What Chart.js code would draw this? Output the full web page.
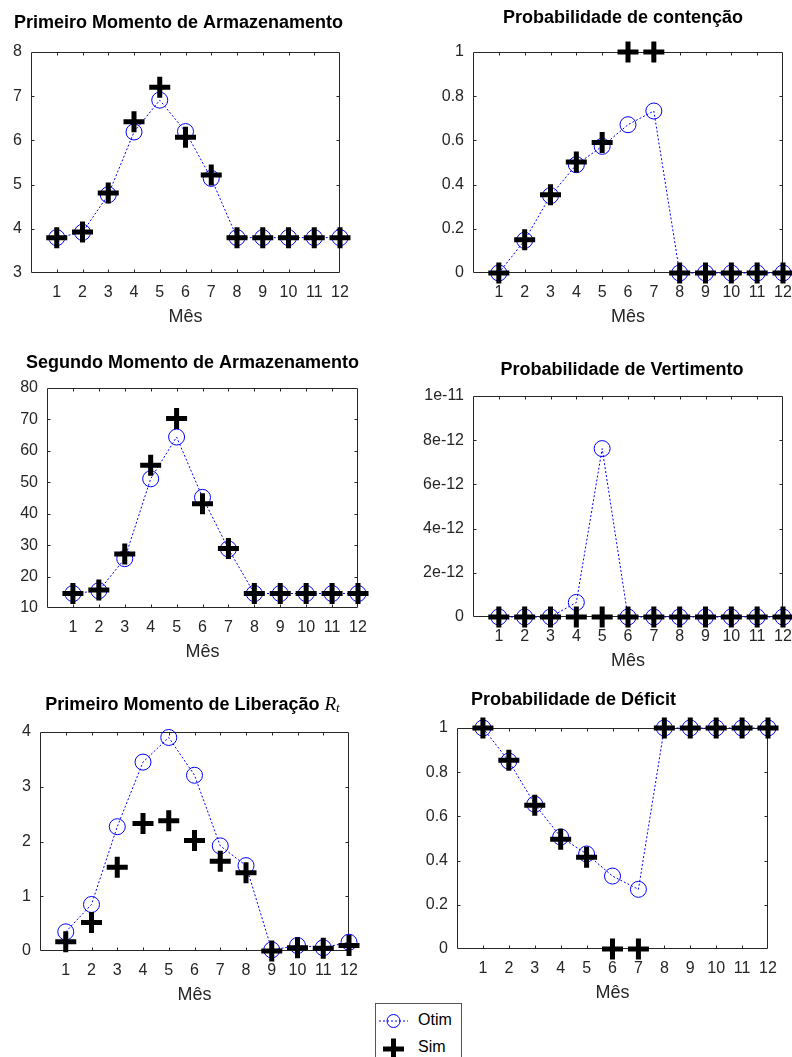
<!DOCTYPE html>
<html lang="pt">
<head>
<meta charset="utf-8">
<title>Momentos e probabilidades por mês</title>
<script src="https://cdn.jsdelivr.net/npm/chart.js@4/dist/chart.umd.min.js"></script>
<style>
  html, body { margin: 0; padding: 0; background: #fff; overflow: hidden; }
  body { width: 792px; height: 1057px; position: relative; font-family: "Liberation Sans", Arial, sans-serif; }
  canvas { position: absolute; }
  #legenda { position: absolute; left: 375px; top: 1003px; width: 85px; height: 70px; border: 1px solid #555; background: #fff; }
  #legenda svg { position: absolute; }
  #legenda span { position: absolute; left: 42px; font-size: 16px; color: #000; line-height: 18px; }
</style>
</head>
<body>
<canvas id="g1"></canvas>
<canvas id="g2"></canvas>
<canvas id="g3"></canvas>
<canvas id="g4"></canvas>
<canvas id="g5"></canvas>
<canvas id="g6"></canvas>

<div id="legenda">
  <svg style="left:2px; top:7px" width="32" height="20">
    <line x1="1" y1="10" x2="30" y2="10" stroke="#0000ff" stroke-width="1" stroke-dasharray="2,2"/>
    <circle cx="15.5" cy="10" r="6.5" fill="none" stroke="#0000ff" stroke-width="1"/>
  </svg>
  <span style="top:7px">Otim</span>
  <svg style="left:2px; top:33px" width="32" height="24">
    <line x1="5" y1="12" x2="26" y2="12" stroke="#000" stroke-width="5"/>
    <line x1="15.5" y1="1.5" x2="15.5" y2="22.5" stroke="#000" stroke-width="5"/>
  </svg>
  <span style="top:34px">Sim</span>
</div>

<script>
// Dados (12 meses)
const meses = [1, 2, 3, 4, 5, 6, 7, 8, 9, 10, 11, 12];

// Primeiro Momento de Armazenamento
const armaz1Otim = [3.8, 3.92, 4.77, 6.19, 6.91, 6.2, 5.14, 3.8, 3.8, 3.8, 3.8, 3.8];
const armaz1Sim  = [3.8, 3.93, 4.81, 6.42, 7.2, 6.07, 5.22, 3.8, 3.8, 3.8, 3.8, 3.8];

// Probabilidade de contenção
const contencaoOtim = [0, 0.148, 0.35, 0.49, 0.573, 0.671, 0.733, 0, 0, 0, 0, 0];
const contencaoSim  = [0, 0.151, 0.354, 0.502, 0.59, 1, 1, 0, 0, 0, 0, 0];

// Segundo Momento de Armazenamento
const armaz2Otim = [14.6, 15.5, 25.7, 51.1, 64.4, 45.2, 28.8, 14.6, 14.6, 14.6, 14.6, 14.6];
const armaz2Sim  = [14.6, 15.7, 27.2, 55.4, 70.3, 43.2, 28.9, 14.6, 14.6, 14.6, 14.6, 14.6];

// Probabilidade de Vertimento
const vertimentoOtim = [0, 0, 0, 6.6e-13, 7.62e-12, 0, 0, 0, 0, 0, 0, 0];
const vertimentoSim  = [0, 0, 0, 0, 0, 0, 0, 0, 0, 0, 0, 0];

// Primeiro Momento de Liberação Rt
const liberacaoOtim = [0.35, 0.85, 2.27, 3.45, 3.9, 3.21, 1.92, 1.56, 0.02, 0.1, 0.06, 0.16];
const liberacaoSim  = [0.17, 0.52, 1.53, 2.33, 2.38, 2.02, 1.64, 1.43, 0, 0.06, 0.05, 0.1];

// Probabilidade de Déficit
const deficitOtim = [1, 0.85, 0.655, 0.507, 0.43, 0.33, 0.27, 1, 1, 1, 1, 1];
const deficitSim  = [1, 0.854, 0.65, 0.497, 0.415, 0, 0, 1, 1, 1, 1, 1];

// Medidas fixas da área de cada eixo
const LARG_Y = 60;     // largura do eixo y
const ALT_X = 60;      // altura do eixo x
const MARGEM_SUP = 50; // espaço para o título
const MARGEM_DIR = 24; // folga para o rótulo "12"

const corTexto = '#262626';
const fonte = '"Liberation Sans", Arial, Helvetica, sans-serif';

// Título centrado sobre a área do gráfico (com partes em fontes diferentes)
const tituloEixo = {
  id: 'tituloEixo',
  afterDraw(chart) {
    const t = chart.config._config.tituloInfo;
    if (!t) return;
    const { ctx, chartArea } = chart;
    ctx.save();
    ctx.textBaseline = 'middle';
    ctx.textAlign = 'left';
    ctx.fillStyle = '#000';
    const larguras = t.partes.map(p => { ctx.font = p.font; return ctx.measureText(p.texto).width; });
    const total = larguras.reduce((a, b) => a + b, 0);
    let x = (chartArea.left + chartArea.right) / 2 + t.dx - total / 2;
    const y = chartArea.top - t.dy;
    t.partes.forEach((p, i) => {
      ctx.font = p.font;
      ctx.fillText(p.texto, x, y + (p.desl || 0));
      x += larguras[i];
    });
    ctx.restore();
  }
};

// Caixa dos eixos com marcas internas (estilo MATLAB)
const caixaEixos = {
  id: 'caixaEixos',
  beforeDatasetsDraw(chart) {
    const { ctx, chartArea: a, scales } = chart;
    const esq = Math.round(a.left) + 0.5, dir = Math.round(a.right) - 0.5;
    const sup = Math.round(a.top) + 0.5, inf = Math.round(a.bottom) - 0.5;
    ctx.save();
    ctx.strokeStyle = corTexto;
    ctx.lineWidth = 1;
    ctx.beginPath();
    ctx.rect(esq, sup, dir - esq, inf - sup);
    scales.x.ticks.forEach(t => {
      if (t.value <= scales.x.min || t.value >= scales.x.max) return;
      const px = Math.round(scales.x.getPixelForValue(t.value)) + 0.5;
      ctx.moveTo(px, inf); ctx.lineTo(px, inf - 3);
      ctx.moveTo(px, sup); ctx.lineTo(px, sup + 3);
    });
    scales.y.ticks.forEach(t => {
      if (t.value <= scales.y.min || t.value >= scales.y.max) return;
      const py = Math.round(scales.y.getPixelForValue(t.value)) + 0.5;
      ctx.moveTo(esq, py); ctx.lineTo(esq + 3, py);
      ctx.moveTo(dir, py); ctx.lineTo(dir - 3, py);
    });
    ctx.stroke();
    ctx.restore();
  }
};

function pontos(valores) {
  return meses.map((m, i) => ({ x: m, y: valores[i] }));
}

// Cria um gráfico; area = [esquerda, topo, direita, base] da área de plotagem
function criarGrafico(id, area, otim, sim, eixoY, titulo) {
  const [esq, topo, dir, base] = area;
  const canvas = document.getElementById(id);
  canvas.width = dir - esq + LARG_Y + MARGEM_DIR;
  canvas.height = base - topo + MARGEM_SUP + ALT_X;
  canvas.style.left = (esq - LARG_Y) + 'px';
  canvas.style.top = (topo - MARGEM_SUP) + 'px';

  return new Chart(canvas.getContext('2d'), {
    type: 'line',
    tituloInfo: titulo,
    data: {
      datasets: [
        {
          label: 'Otim',
          data: pontos(otim),
          borderColor: '#0000ff',
          borderWidth: 1,
          borderDash: [2, 2],
          fill: false,
          tension: 0,
          pointStyle: 'circle',
          pointRadius: 8,
          pointBorderWidth: 1,
          pointBorderColor: '#0000ff',
          pointBackgroundColor: 'rgba(0,0,0,0)',
          clip: false,
          order: 1
        },
        {
          label: 'Sim',
          data: pontos(sim),
          showLine: false,
          pointStyle: 'cross',
          pointRadius: 10.5,
          pointBorderWidth: 5,
          pointBorderColor: '#000',
          clip: false,
          order: 0
        }
      ]
    },
    options: {
      responsive: false,
      animation: false,
      events: [],
      layout: { padding: { top: MARGEM_SUP, right: MARGEM_DIR, left: 0, bottom: 0 } },
      plugins: { legend: { display: false }, tooltip: { enabled: false }, title: { display: false } },
      scales: {
        x: {
          type: 'linear',
          position: 'bottom',
          min: 0,
          max: 12,
          afterFit: s => { s.height = ALT_X; },
          grid: { display: false, drawTicks: false },
          border: { display: false },
          ticks: {
            stepSize: 1,
            autoSkip: false,
            maxRotation: 0,
            padding: 10,
            color: corTexto,
            font: { family: fonte, size: 16 },
            callback: v => (v === 0 ? '' : String(v))
          },
          title: {
            display: true,
            text: 'Mês',
            color: corTexto,
            font: { family: fonte, size: 18 },
            padding: { top: 0, bottom: 5 }
          }
        },
        y: {
          type: 'linear',
          position: 'left',
          min: eixoY.min,
          max: eixoY.max,
          afterFit: s => { s.width = LARG_Y; },
          grid: { display: false, drawTicks: false },
          border: { display: false },
          ticks: {
            stepSize: eixoY.passo,
            autoSkip: false,
            padding: 9,
            color: corTexto,
            font: { family: fonte, size: 16 },
            callback: eixoY.formato || (v => String(Number(v.toPrecision(6))))
          }
        }
      }
    },
    plugins: [caixaEixos, tituloEixo]
  });
}

const negrito = 'bold 18px ' + fonte;
const simples = t => ({ partes: [{ texto: t, font: negrito }] });

window.onload = () => {
  criarGrafico('g1', [31, 52, 340, 273], armaz1Otim, armaz1Sim,
    { min: 3, max: 8, passo: 1 },
    Object.assign(simples('Primeiro Momento de Armazenamento'), { dx: -7, dy: 29 }));

  criarGrafico('g2', [473, 52, 783, 273], contencaoOtim, contencaoSim,
    { min: 0, max: 1, passo: 0.2 },
    Object.assign(simples('Probabilidade de contenção'), { dx: -5, dy: 34 }));

  criarGrafico('g3', [47, 388, 358, 608], armaz2Otim, armaz2Sim,
    { min: 10, max: 80, passo: 10 },
    Object.assign(simples('Segundo Momento de Armazenamento'), { dx: -10, dy: 25 }));

  criarGrafico('g4', [473, 396, 783, 617], vertimentoOtim, vertimentoSim,
    { min: 0, max: 1e-11, passo: 2e-12,
      formato: v => (v === 0 ? '0' : Number(v.toPrecision(6)).toExponential()) },
    Object.assign(simples('Probabilidade de Vertimento'), { dx: -6, dy: 26 }));

  criarGrafico('g5', [40, 732, 349, 951], liberacaoOtim, liberacaoSim,
    { min: 0, max: 4, passo: 1 },
    {
      partes: [
        { texto: 'Primeiro Momento de Liberação ', font: negrito },
        { texto: 'R', font: 'italic 19px "Liberation Serif", "DejaVu Serif", serif' },
        { texto: 't', font: 'italic 13px "Liberation Serif", "DejaVu Serif", serif', desl: 4 }
      ],
      dx: -2, dy: 27
    });

  criarGrafico('g6', [457, 728, 768, 949], deficitOtim, deficitSim,
    { min: 0, max: 1, passo: 0.2 },
    Object.assign(simples('Probabilidade de Déficit'), { dx: -39, dy: 28 }));
};
</script>
</body>
</html>
